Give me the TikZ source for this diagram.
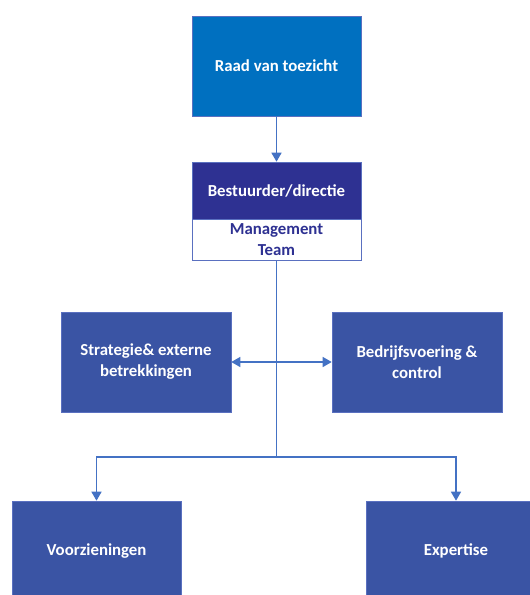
\documentclass[tikz,border=0pt]{standalone}
\usepackage{fontspec}
\setmainfont{Carlito}
\usetikzlibrary{arrows.meta, positioning}
\definecolor{toezicht}{HTML}{0070C0}
\definecolor{directie}{HTML}{2E3192}
\definecolor{afdeling}{HTML}{3A54A4}
\definecolor{lijn}{HTML}{4472C4}
\definecolor{rand}{HTML}{5A70C0}
\tikzset{
  font=\fontsize{16.8}{21}\selectfont\bfseries,
  >={Triangle[length=9pt, width=10pt]},
  %
  box/.style={
    draw=rand, line width=0.6pt, align=center, text=white,
    minimum width=169pt, minimum height=100pt, inner sep=4pt,
  },
  boxt/.style={box, fill=toezicht},
  boxd/.style={box, fill=directie, minimum height=57pt},
  boxm/.style={box, fill=white, text=directie, minimum height=41pt,
               inner sep=1pt},
  boxa/.style={box, fill=afdeling, minimum width=170pt},
  %
  flow/.style={draw=lijn, line width=1.4pt, ->},
  link/.style={draw=lijn, line width=1.4pt},
}
\begin{document}
\begin{tikzpicture}[x=1pt, y=-1pt]

  \useasboundingbox (0,0) rectangle (530,595);
  \fill[white] (0,0) rectangle (530,595);
  \clip (0,0) rectangle (530,595);

  \node[boxt] (raad) at (276.5,66) {Raad van toezicht};
  \node[boxd] (bestuur) at (276.5,190.5) {Bestuurder/directie};
  \node[boxm, below=0pt of bestuur] (mt) {Management\\Team};

  \node[boxa] (strat)   at (146,362) {Strategie\& externe\\betrekkingen};
  \node[boxa] (bedrijf) at (417,362) {Bedrijfsvoering \&\\control};

  \node[boxa, minimum width=169pt] (voorz) at (96.5,551) {Voorzieningen};
  \node[boxa, minimum width=180pt] (exp)   at (456,551) {Expertise};

  \coordinate (splits) at (276.5,457);

  % top of the chain
  \draw[flow] (raad) -- (bestuur);
  \draw[link] (mt) -- (splits);

  % staff on both sides
  \draw[flow, <->] (strat) -- (bedrijf);

  % line departments
  \draw[flow] (splits) -| (voorz);
  \draw[flow] (splits) -| (exp);

\end{tikzpicture}
\end{document}
